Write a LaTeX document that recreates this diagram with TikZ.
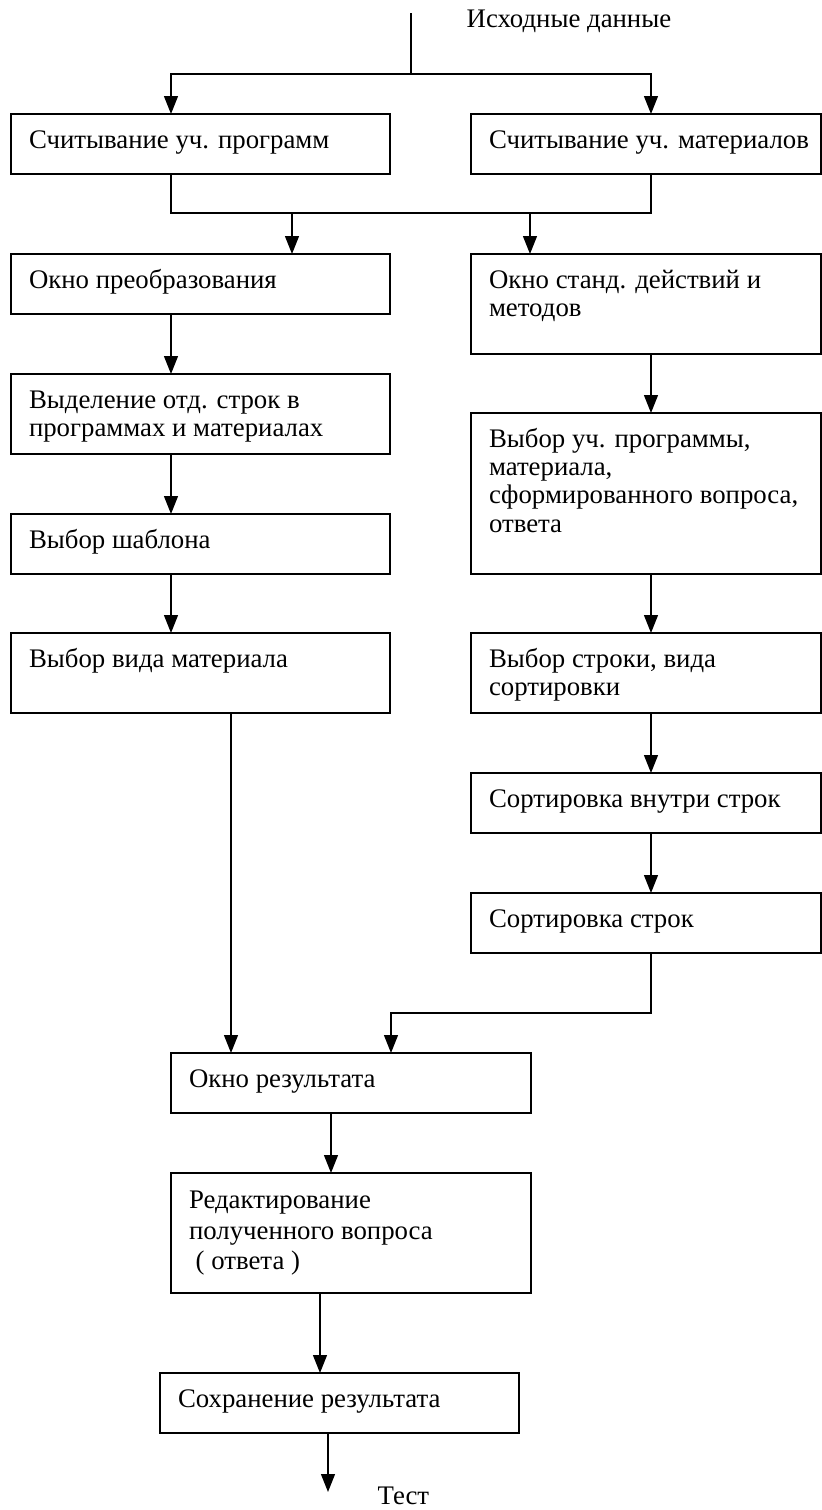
\documentclass[tikz,border=0pt]{standalone}
\usepackage{fontspec}
\setmainfont{Liberation Serif}
\usetikzlibrary{arrows.meta}

% box text: width and height of the box in px, then the text
\newcommand{\blktxt}[3]{\parbox[t][\dimexpr #2pt/2-14.2pt\relax][t]{\dimexpr #1pt/2-18pt\relax}{\raggedright\strut #3}}

\begin{document}
\begin{tikzpicture}[x=0.5pt,y=-0.5pt,line width=0.65pt,
	blk/.style={draw=black,shape=rectangle,anchor=north west,inner xsep=9pt,inner ysep=7.1pt,outer sep=0pt,font=\fontsize{13.4pt}{14.2pt}\selectfont},
	lbl/.style={inner sep=0pt,anchor=base west,font=\fontsize{13.4pt}{14.2pt}\selectfont},
	arr/.style={-{Triangle[length=9pt,width=7pt]}}]
	\useasboundingbox (0, 0) rectangle (821, 1510);

	\node[blk] (r1)  at (11, 114)   {\blktxt{379}{60}{Считывание уч. программ}};
	\node[blk] (r2)  at (471, 114)  {\blktxt{350}{60}{\mbox{Считывание уч. материалов}}};
	\node[blk] (w1)  at (11, 254)   {\blktxt{379}{60}{Окно преобразования}};
	\node[blk] (w2)  at (471, 254)  {\blktxt{350}{100}{Окно станд. действий и\\методов}};
	\node[blk] (s1)  at (11, 374)   {\blktxt{379}{80}{Выделение отд. строк в\\программах и материалах}};
	\node[blk] (t1)  at (11, 514)   {\blktxt{379}{60}{Выбор шаблона}};
	\node[blk] (v1)  at (11, 633)   {\blktxt{379}{80}{Выбор вида материала}};
	\node[blk] (c2)  at (471, 413)  {\blktxt{350}{161}{Выбор уч. программы,\\материала,\\\mbox{сформированного вопроса,}\\ответа}};
	\node[blk] (k2)  at (471, 633)  {\blktxt{350}{80}{Выбор строки, вида\\сортировки}};
	\node[blk] (in2) at (471, 773)  {\blktxt{350}{60}{Сортировка внутри строк}};
	\node[blk] (so2) at (471, 893)  {\blktxt{350}{60}{Сортировка строк}};
	\node[blk] (res) at (171, 1053) {\blktxt{360}{60}{Окно результата}};
	\node[blk,font=\fontsize{13.4pt}{15.3pt}\selectfont] (ed) at (171, 1173) {\blktxt{360}{120}{Редактирование\\полученного вопроса\\~( ответа )}};
	\node[blk] (sav) at (160, 1373) {\blktxt{359}{60}{Сохранение результата}};

	\node[lbl] (inp) at (466, 27)   {Исходные данные};
	\node[lbl] (tst) at (377, 1504) {Тест};

	\coordinate (src)  at (411, 13);
	\coordinate (fork) at (411, 74);
	\coordinate (jl)   at (171, 213);
	\coordinate (jr)   at (651, 213);
	\coordinate (tl)   at (292, 213);
	\coordinate (tr)   at (530, 213);
	\coordinate (xa)   at (231, 713);
	\coordinate (jm)   at (391, 1013);
	\coordinate (xb)   at (331, 1113);
	\coordinate (xc)   at (320, 1293);
	\coordinate (out)  at (328, 1492);

	\draw (src) -- (fork);
	\draw[arr] (fork) -| (r1.north -| jl);
	\draw[arr] (fork) -| (r2.north -| jr);
	\draw (r1.south -| jl) -- (jl) -- (jr) -- (r2.south -| jr);
	\draw[arr] (tl) -- (w1.north -| tl);
	\draw[arr] (tr) -- (w2.north -| tr);

	\draw[arr] (w1.south -| jl) -- (s1.north -| jl);
	\draw[arr] (s1.south -| jl) -- (t1.north -| jl);
	\draw[arr] (t1.south -| jl) -- (v1.north -| jl);
	\draw[arr] (v1.south -| xa) -- (res.north -| xa);

	\draw[arr] (w2.south -| jr) -- (c2.north -| jr);
	\draw[arr] (c2.south -| jr) -- (k2.north -| jr);
	\draw[arr] (k2.south -| jr) -- (in2.north -| jr);
	\draw[arr] (in2.south -| jr) -- (so2.north -| jr);
	\draw[arr] (so2.south -| jr) |- (jm) -- (res.north -| jm);

	\draw[arr] (res.south -| xb) -- (ed.north -| xb);
	\draw[arr] (ed.south -| xc) -- (sav.north -| xc);
	\draw[arr] (sav.south -| out) -- (out);

\end{tikzpicture}
\end{document}
